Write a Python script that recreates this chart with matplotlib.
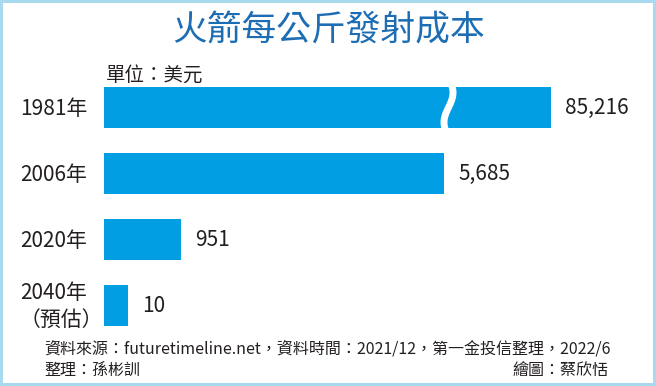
import matplotlib.pyplot as plt
import numpy as np

plt.rcParams['font.family'] = ['Noto Sans CJK TC', 'DejaVu Sans']

# data
years = ['1981年', '2006年', '2020年', '2040年\n（預估）']
costs = [85216, 5685, 951, 10]
# bar lengths as drawn in the graphic (schematic, not to scale)
bar_len = [447, 340, 77, 24]
break_at = 344.5  # where the 1981 bar is broken

title = '火箭每公斤發射成本'
unit = '單位：美元'
source = '資料來源：futuretimeline.net，資料時間：2021/12，第一金投信整理，2022/6'
editor = '整理：孫彬訓'
artist = '繪圖：蔡欣恬'

bar_color = '#029ee3'
title_color = '#1c6db4'
text_color = '#231f20'

W, H = 656, 386
fig = plt.figure(figsize=(W / 100, H / 100), dpi=100)
fig.patch.set_facecolor('white')
fig.patch.set_edgecolor('#a9d9ef')
fig.patch.set_linewidth(3)

# axes in pixel-ish units: x = px from bar start
ax = fig.add_axes([104 / W, 1 - 338.5 / H, (W - 104) / W, 264 / H])
ax.set_xlim(0, W - 104)
ax.set_ylim(len(years) - 0.5, -0.5)

y = np.arange(len(years))
ax.barh(y, bar_len, height=0.62, color=bar_color)

# wavy break mark on the first bar
t = np.linspace(-0.42, 0.42, 80)
ax.plot(break_at - 4.5 * np.sin(2 * np.pi * t / 0.9), t, color='white',
        lw=5, solid_capstyle='butt')

for i, (L, v) in enumerate(zip(bar_len, costs)):
    ax.text(L + 14, i, f'{v:,}', va='center', ha='left', fontsize=15,
            color=text_color)
    ax.text(-84, i + 0.02, years[i], va='center', ha='left', fontsize=15,
            color=text_color, linespacing=1.3)

ax.set_xticks([])
ax.set_yticks([])
for s in ax.spines.values():
    s.set_visible(False)
ax.patch.set_alpha(0)

fig.text(329 / W, 1 - 31 / H, title, ha='center', va='center', fontsize=25,
         fontweight='medium', color=title_color)
fig.text(106 / W, 1 - 75 / H, unit, ha='left', va='center', fontsize=14,
         color=text_color)
fig.text(44 / W, 1 - 349 / H, source, ha='left', va='center', fontsize=11.5,
         color=text_color)
fig.text(44 / W, 1 - 370 / H, editor, ha='left', va='center', fontsize=11.5,
         color=text_color)
fig.text(608 / W, 1 - 370 / H, artist, ha='right', va='center', fontsize=11.5,
         color=text_color)

fig.savefig('out.png', dpi=100)
